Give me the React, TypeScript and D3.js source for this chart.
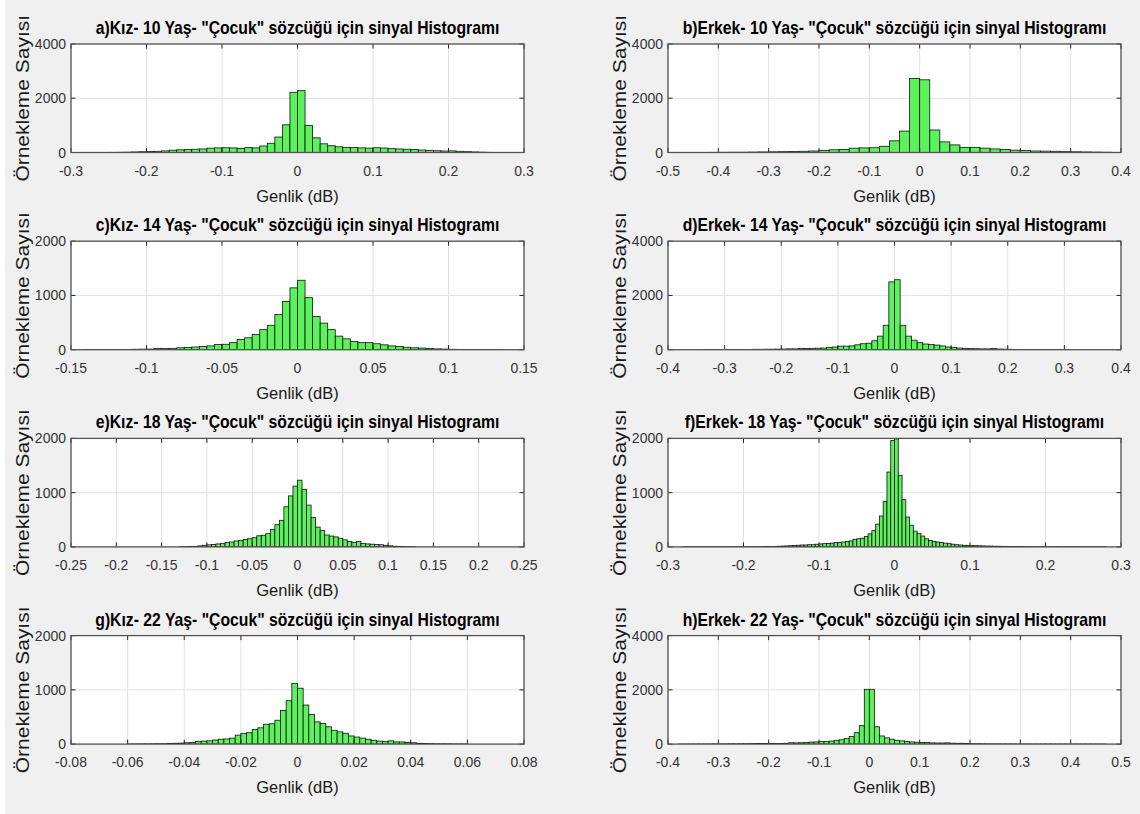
import React, { useEffect, useRef } from "react";
import * as d3 from "d3";

// panel titles, a..h (left column = Kız, right column = Erkek)
const titles = [
  'a)Kız- 10 Yaş- "Çocuk" sözcüğü için sinyal Histogramı',
  'b)Erkek- 10 Yaş- "Çocuk" sözcüğü için sinyal Histogramı',
  'c)Kız- 14 Yaş- "Çocuk" sözcüğü için sinyal Histogramı',
  'd)Erkek- 14 Yaş- "Çocuk" sözcüğü için sinyal Histogramı',
  'e)Kız- 18 Yaş- "Çocuk" sözcüğü için sinyal Histogramı',
  'f)Erkek- 18 Yaş- "Çocuk" sözcüğü için sinyal Histogramı',
  'g)Kız- 22 Yaş- "Çocuk" sözcüğü için sinyal Histogramı',
  'h)Erkek- 22 Yaş- "Çocuk" sözcüğü için sinyal Histogramı',
];
const xLabel = "Genlik (dB)";
const yLabel = "Örnekleme Sayısı";

// bin edges: first edge and bin width of each histogram
const binStarts = [-0.26, -0.44, -0.14, -0.34, -0.13, -0.28, -0.06, -0.38];
const binWidths = [0.01, 0.02, 0.005, 0.01, 0.005, 0.005, 0.002, 0.01];

// bin counts
const countsA = [3, 5, 8, 12, 20, 28, 35, 45, 60, 85, 100, 110, 120, 130, 160, 170, 175, 170, 150, 180, 170, 240, 340, 570, 1020, 2220,
  2280, 1000, 540, 320, 250, 210, 190, 180, 170, 160, 175, 165, 140, 130, 120, 110, 90, 80, 65, 55, 60, 45, 30, 20, 12, 6];
const countsB = [3, 5, 8, 10, 10, 15, 20, 25, 30, 40, 45, 55, 70, 100, 110, 160, 170, 175, 230, 430, 790, 2730,
  2680, 830, 390, 280, 190, 190, 160, 130, 110, 85, 70, 55, 50, 45, 30, 25, 20, 15, 10, 5];
const countsC = [2, 2, 3, 3, 5, 5, 8, 10, 12, 25, 20, 25, 35, 40, 50, 60, 70, 95, 100, 130, 190, 220, 280, 370, 450, 650, 890, 1140,
  1280, 960, 610, 490, 370, 250, 200, 150, 130, 130, 110, 90, 70, 60, 45, 35, 30, 20, 15, 12, 8, 6, 5, 4, 3, 2, 2];
const countsD = [3, 5, 5, 5, 8, 8, 10, 10, 12, 15, 15, 18, 20, 22, 25, 30, 30, 50, 45, 50, 55, 60, 80, 100, 130, 130, 140, 180, 220, 240, 330, 500, 900, 2500,
  2580, 900, 500, 350, 260, 210, 190, 170, 140, 100, 80, 60, 50, 40, 35, 30, 30, 40, 25, 20, 15, 12, 10, 10, 8, 6, 5, 4, 4, 3, 3];
const countsE = [3, 4, 6, 10, 18, 30, 38, 45, 55, 60, 80, 90, 110, 120, 135, 150, 170, 205, 215, 245, 320, 410, 490, 740, 940, 1120,
  1230, 1060, 770, 540, 365, 300, 220, 200, 185, 160, 130, 100, 80, 100, 65, 55, 50, 45, 40, 30, 20, 12, 8, 5, 3, 2];
const countsF = [1, 1, 1, 1, 1, 1, 1, 1, 1, 1, 1, 1, 2, 2, 2, 2,
  2, 2, 3, 3, 4, 5, 6, 8, 10, 12, 15, 18, 22, 25, 30, 35, 35, 40, 40, 50, 55, 60, 65, 70, 80, 80, 90, 100, 110, 140, 150, 160, 190, 240, 300, 420, 570, 840, 1380, 1960,
  1990, 1320, 870, 550, 400, 290, 250, 200, 150, 120, 100, 90, 80, 70, 60, 50, 40, 35, 30, 28, 25, 22, 20, 18, 15, 15, 12, 12, 10, 10, 8, 8, 6, 6, 5, 5, 4, 3, 3, 2,
  2, 2, 2, 2, 1, 1, 1, 1, 1, 1, 1, 1, 1, 1, 1, 1];
const countsG = [2, 2, 3, 4, 5, 6, 8, 10, 15, 18, 25, 30, 50, 55, 60, 75, 90, 95, 110, 165, 195, 210, 270, 300, 365, 375, 440, 620, 800, 1120,
  1030, 720, 545, 410, 380, 320, 255, 225, 200, 150, 130, 110, 90, 70, 55, 45, 60, 40, 40, 30, 25, 15, 12, 8, 6, 5, 4, 3, 2, 2];
const countsH = [1, 2, 2, 2, 3, 3, 4, 5, 6, 8, 10, 10, 12, 15, 18, 20, 20, 20, 22, 25, 25, 30, 50, 45, 50, 60, 75, 80, 90, 100, 110, 140, 160, 205, 280, 420, 680, 2020,
  2020, 640, 300, 230, 180, 140, 120, 100, 80, 70, 60, 55, 45, 40, 40, 45, 35, 30, 30, 25, 15, 12, 10, 8, 7, 6, 5, 5, 4, 3, 3, 3, 2, 2, 2, 2, 2, 1, 1, 1, 1, 1, 1, 1, 1, 1, 1];

// axis ticks
const xTicksA = [-0.3, -0.2, -0.1, 0, 0.1, 0.2, 0.3];
const xTicksB = [-0.5, -0.4, -0.3, -0.2, -0.1, 0, 0.1, 0.2, 0.3, 0.4];
const xTicksC = [-0.15, -0.1, -0.05, 0, 0.05, 0.1, 0.15];
const xTicksD = [-0.4, -0.3, -0.2, -0.1, 0, 0.1, 0.2, 0.3, 0.4];
const xTicksE = [-0.25, -0.2, -0.15, -0.1, -0.05, 0, 0.05, 0.1, 0.15, 0.2, 0.25];
const xTicksF = [-0.3, -0.2, -0.1, 0, 0.1, 0.2, 0.3];
const xTicksG = [-0.08, -0.06, -0.04, -0.02, 0, 0.02, 0.04, 0.06, 0.08];
const xTicksH = [-0.4, -0.3, -0.2, -0.1, 0, 0.1, 0.2, 0.3, 0.4, 0.5];
const yTicks4000 = [0, 2000, 4000];
const yTicks2000 = [0, 1000, 2000];

const allCounts = [countsA, countsB, countsC, countsD, countsE, countsF, countsG, countsH];
const allXTicks = [xTicksA, xTicksB, xTicksC, xTicksD, xTicksE, xTicksF, xTicksG, xTicksH];
const allYTicks = [yTicks4000, yTicks4000, yTicks2000, yTicks4000, yTicks2000, yTicks2000, yTicks2000, yTicks4000];

const W = 1140;
const H = 814;
const FONT = "'Liberation Sans', Arial, Helvetica, sans-serif";

export default function App() {
  const ref = useRef<SVGSVGElement>(null);

  useEffect(() => {
    const svg = d3.select(ref.current);
    svg.selectAll("*").remove();

    // figure background
    svg.append("rect").attr("x", 5).attr("y", 0).attr("width", W - 5).attr("height", H).attr("fill", "#f0f0f0");

    const colLeft = [71, 668];
    const plotW = 453;
    const plotH = 108.5;
    const firstTop = 44;
    const rowStep = 197.2;

    titles.forEach((title, i) => {
      const col = i % 2;
      const row = Math.floor(i / 2);
      const left = colLeft[col];
      const top = firstTop + row * rowStep;
      const xt = allXTicks[i];
      const yt = allYTicks[i];
      const counts = allCounts[i];

      const x = d3.scaleLinear().domain([xt[0], xt[xt.length - 1]]).range([left, left + plotW]);
      const y = d3.scaleLinear().domain([0, yt[yt.length - 1]]).range([top + plotH, top]);

      const g = svg.append("g");
      const clipId = "clip" + i;
      g.append("clipPath").attr("id", clipId)
        .append("rect").attr("x", left).attr("y", top).attr("width", plotW).attr("height", plotH);

      // axes background
      g.append("rect").attr("x", left).attr("y", top).attr("width", plotW).attr("height", plotH).attr("fill", "#ffffff");

      // grid
      g.selectAll(".gx").data(xt).enter().append("line")
        .attr("x1", (d) => x(d)).attr("x2", (d) => x(d))
        .attr("y1", top).attr("y2", top + plotH)
        .attr("stroke", "#e2e2e2").attr("stroke-width", 1);
      g.selectAll(".gy").data(yt).enter().append("line")
        .attr("x1", left).attr("x2", left + plotW)
        .attr("y1", (d) => y(d)).attr("y2", (d) => y(d))
        .attr("stroke", "#e2e2e2").attr("stroke-width", 1);

      // histogram bars
      const start = binStarts[i];
      const bw = binWidths[i];
      g.append("g").attr("clip-path", `url(#${clipId})`)
        .selectAll("rect").data(counts).enter().append("rect")
        .attr("x", (d, k) => x(start + k * bw))
        .attr("width", (d, k) => x(start + (k + 1) * bw) - x(start + k * bw))
        .attr("y", (d) => y(d))
        .attr("height", (d) => y(0) - y(d))
        .attr("fill", "#5cf25c")
        .attr("stroke", "#111")
        .attr("stroke-width", 0.8);

      // ticks (inside, on all four sides)
      const tl = 4.5;
      xt.forEach((v) => {
        g.append("line").attr("x1", x(v)).attr("x2", x(v)).attr("y1", top + plotH).attr("y2", top + plotH - tl)
          .attr("stroke", "#262626");
        g.append("line").attr("x1", x(v)).attr("x2", x(v)).attr("y1", top).attr("y2", top + tl)
          .attr("stroke", "#262626");
      });
      yt.forEach((v) => {
        g.append("line").attr("x1", left).attr("x2", left + tl).attr("y1", y(v)).attr("y2", y(v))
          .attr("stroke", "#262626");
        g.append("line").attr("x1", left + plotW).attr("x2", left + plotW - tl).attr("y1", y(v)).attr("y2", y(v))
          .attr("stroke", "#262626");
      });

      // axes box
      g.append("rect").attr("x", left).attr("y", top).attr("width", plotW).attr("height", plotH)
        .attr("fill", "none").attr("stroke", "#555").attr("stroke-width", 1.3);

      // tick labels
      g.selectAll(".xl").data(xt).enter().append("text")
        .attr("x", (d) => x(d)).attr("y", top + plotH + 23)
        .attr("text-anchor", "middle")
        .attr("font-family", FONT).attr("font-size", 14).attr("fill", "#333")
        .text((d) => String(d));
      g.selectAll(".yl").data(yt).enter().append("text")
        .attr("x", left - 5).attr("y", (d) => y(d))
        .attr("text-anchor", "end").attr("dominant-baseline", "central")
        .attr("font-family", FONT).attr("font-size", 14).attr("fill", "#333")
        .text((d) => String(d));

      const cx = left + plotW / 2;
      // title
      g.append("text")
        .attr("transform", `translate(${cx},${top - 10}) scale(0.9,1)`)
        .attr("text-anchor", "middle")
        .attr("font-family", FONT).attr("font-size", 17.5).attr("font-weight", "bold").attr("fill", "#000")
        .text(title);
      // x label
      g.append("text")
        .attr("x", cx).attr("y", top + plotH + 49)
        .attr("text-anchor", "middle")
        .attr("font-family", FONT).attr("font-size", 16.5).attr("fill", "#1a1a1a")
        .text(xLabel);
      // y label
      g.append("text")
        .attr("transform", `translate(${left - 48},${top + plotH / 2}) rotate(-90) scale(1,0.85)`)
        .attr("text-anchor", "middle").attr("dominant-baseline", "central")
        .attr("font-family", FONT).attr("font-size", 21).attr("fill", "#1a1a1a")
        .text(yLabel);
    });
  }, []);

  return (
    <div style={{ position: "absolute", left: 0, top: 0 }}>
      <svg ref={ref} width={W} height={H} style={{ display: "block" }}></svg>
    </div>
  );
}
